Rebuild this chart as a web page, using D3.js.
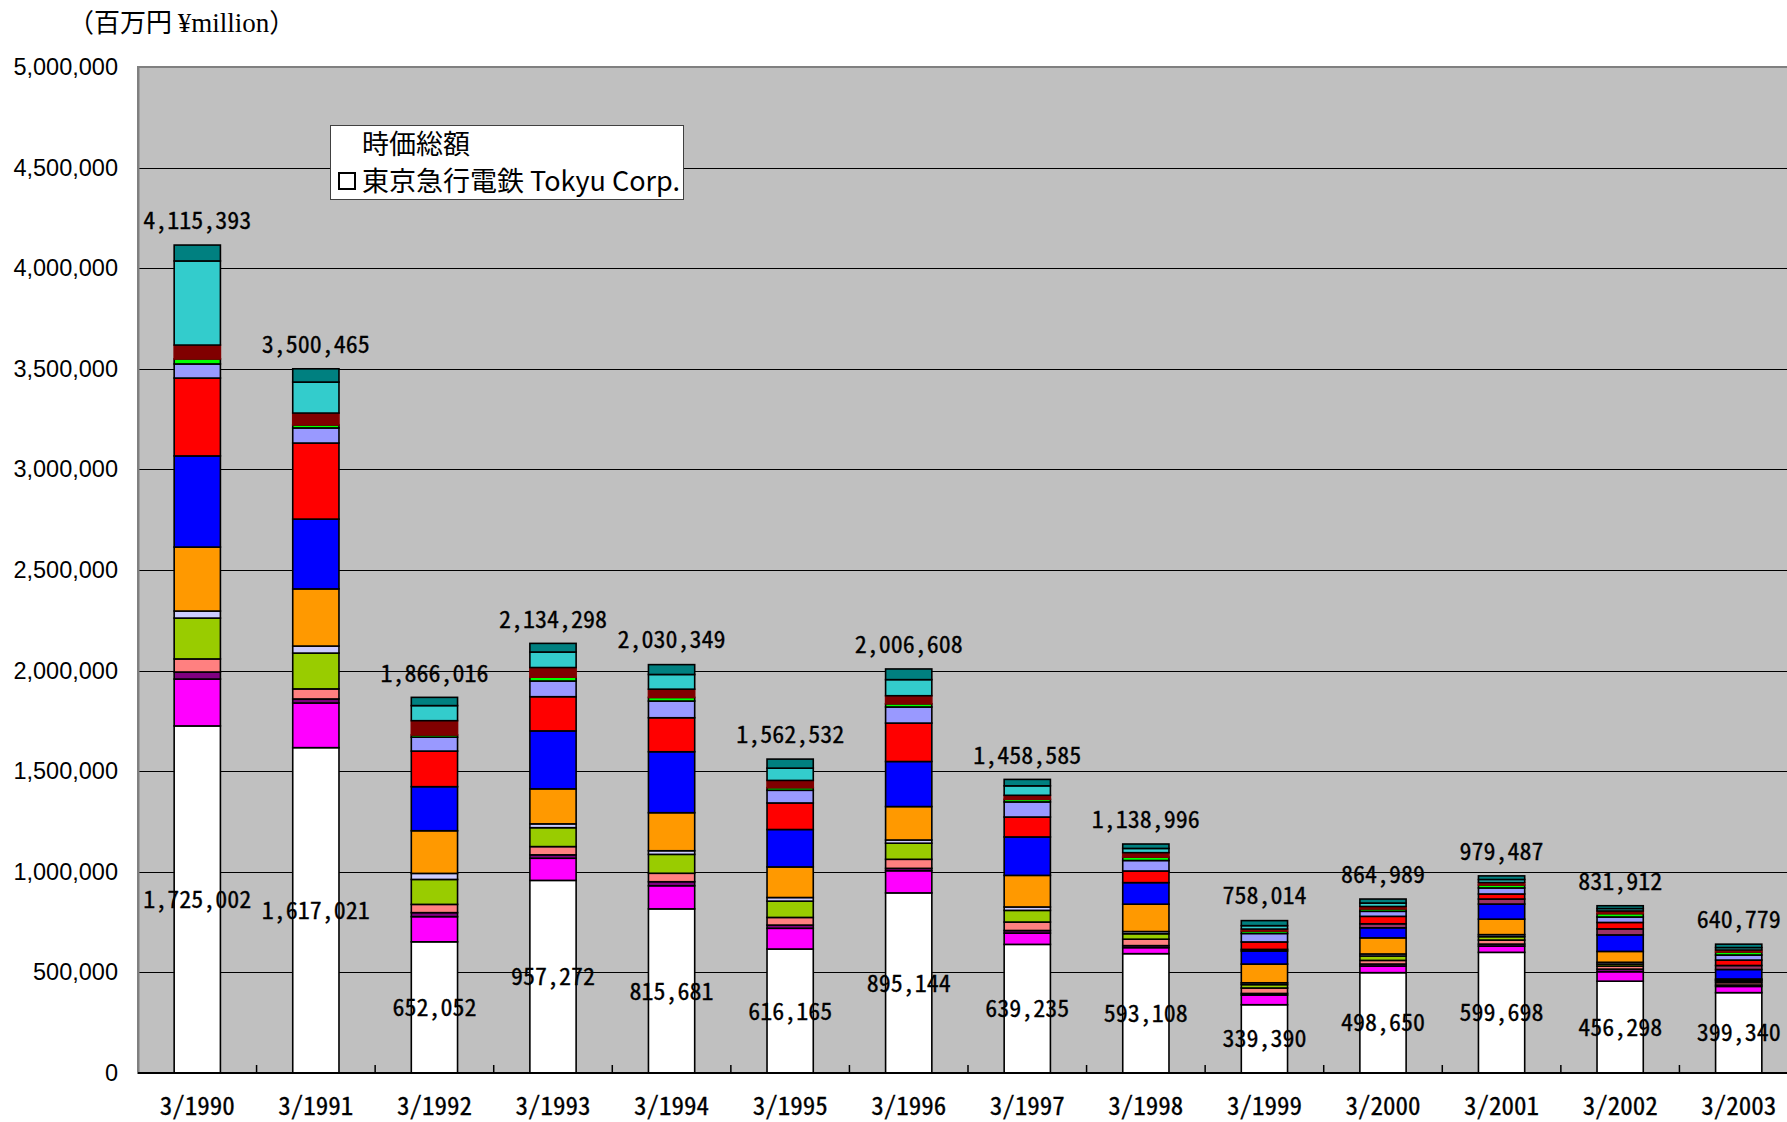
<!DOCTYPE html>
<html>
<head>
<meta charset="utf-8">
<script src="https://cdn.jsdelivr.net/npm/d3@7"></script>
<style>
  body { margin: 0; background: #fff; }
  svg { display: block; }
</style>
</head>
<body>
<div id="chart"></div>
<script>
// values in ¥million
const years = ["3/1990", "3/1991", "3/1992", "3/1993", "3/1994", "3/1995", "3/1996",
    "3/1997", "3/1998", "3/1999", "3/2000", "3/2001", "3/2002", "3/2003"]
const totals = [4115393, 3500465, 1866016, 2134298, 2030349, 1562532, 2006608,
    1458585, 1138996, 758014, 864989, 979487, 831912, 640779]

// bottom -> top
const tokyu = [1725002, 1617021, 652052, 957272, 815681, 616165, 895144, 639235, 593108, 339390, 498650, 599698, 456298, 399340]
const magenta = [233000, 222000, 125000, 110000, 115000, 103000, 110000, 56000, 30000, 48000, 33000, 31000, 47000, 31000]
const purple = [35000, 20000, 20000, 17000, 20000, 16000, 12000, 13000, 10000, 8000, 10000, 10000, 13000, 7000]
const salmon = [65000, 50000, 41000, 41000, 42000, 38000, 45000, 42000, 32000, 27000, 18000, 20000, 15000, 12000]
const yellowgreen = [203000, 178000, 124000, 94000, 94000, 81000, 80000, 58000, 27000, 17000, 22000, 17000, 10000, 8000]
const lavender = [35000, 35000, 30000, 19000, 18000, 18000, 16000, 17000, 11000, 9000, 10000, 10000, 9000, 5000]
const orange = [318000, 284000, 212000, 174000, 189000, 152000, 166000, 157000, 136000, 93000, 80000, 77000, 54000, 5000]
const blue = [453000, 347000, 219000, 288000, 303000, 186000, 224000, 191000, 107000, 65000, 50000, 75000, 82000, 47000]
const plum = [0, 0, 0, 0, 0, 0, 0, 0, 0, 8000, 20000, 25000, 30000, 20000]
const red = [387000, 378000, 177000, 170000, 169000, 132000, 191000, 99000, 58000, 37000, 37000, 25000, 32000, 27000]
const periwinkle = [70000, 75000, 69000, 78000, 83000, 63000, 80000, 75000, 52000, 42000, 25000, 30000, 27000, 25000]
const green = [25000, 15000, 11000, 19000, 18000, 13000, 16000, 13000, 17000, 12000, 12000, 15000, 17000, 15000]
const darkred = [69000, 59000, 71000, 48000, 41000, 36000, 40000, 20000, 22000, 10000, 12000, 12000, 13000, 10000]
const cyan = [418000, 154000, 75000, 77000, 73000, 61000, 80000, 47000, 21000, 17000, 17000, 15000, 12000, 12000]
const teal = [79000, 66000, 41000, 43000, 49000, 45000, 53000, 32000, 22000, 25000, 20000, 18000, 14000, 17000]

const yTicks = [0, 500000, 1000000, 1500000, 2000000, 2500000, 3000000, 3500000, 4000000, 4500000, 5000000]

const SERIES = [
    { key: "tokyu", values: tokyu, fill: "#ffffff", stroke: "#000" },
    { key: "magenta", values: magenta, fill: "#ff00ff", stroke: "#000" },
    { key: "purple", values: purple, fill: "#800080", stroke: "#000" },
    { key: "salmon", values: salmon, fill: "#ff8080", stroke: "#000" },
    { key: "yellowgreen", values: yellowgreen, fill: "#99cc00", stroke: "#000" },
    { key: "lavender", values: lavender, fill: "#ccccff", stroke: "#000" },
    { key: "orange", values: orange, fill: "#ff9900", stroke: "#000" },
    { key: "blue", values: blue, fill: "#0000ff", stroke: "#000" },
    { key: "plum", values: plum, fill: "#993366", stroke: "#000" },
    { key: "red", values: red, fill: "#ff0000", stroke: "#000" },
    { key: "periwinkle", values: periwinkle, fill: "#9999ff", stroke: "#000" },
    { key: "green", values: green, fill: "#00ff00", stroke: "#000" },
    { key: "darkred", values: darkred, fill: "#800000", stroke: "#800000" },
    { key: "cyan", values: cyan, fill: "#33cccc", stroke: "#000" },
    { key: "teal", values: teal, fill: "#008080", stroke: "#000" },
]

const rows = years.map((yr, i) => {
    const r = { year: yr }
    SERIES.forEach(s => { r[s.key] = s.values[i] })
    return r
})

const width = 1787, height = 1122
const plot = { left: 138, top: 67, right: 1798, bottom: 1073 }

const NUM_FONT = "'Noto Sans Mono CJK JP', 'Liberation Sans Narrow', sans-serif"
const JP_FONT = "'Noto Sans CJK JP', sans-serif"

const svg = d3.select("#chart").append("svg")
    .attr("width", width)
    .attr("height", height)

const x = d3.scaleBand()
    .domain(years)
    .range([plot.left, plot.right])
    .paddingInner(0.61)
    .paddingOuter(0.305)

const y = d3.scaleLinear()
    .domain([0, 5000000])
    .range([plot.bottom, plot.top])

// plot background
svg.append("rect")
    .attr("x", plot.left)
    .attr("y", plot.top)
    .attr("width", plot.right - plot.left)
    .attr("height", plot.bottom - plot.top)
    .attr("fill", "#c0c0c0")
    .attr("stroke", "#808080")
    .attr("stroke-width", 2)

// gridlines
svg.append("g")
    .selectAll("line")
    .data(yTicks.filter(d => d > 0 && d < 5000000))
    .enter().append("line")
    .attr("x1", plot.left)
    .attr("x2", plot.right)
    .attr("y1", d => Math.round(y(d)) + 0.5)
    .attr("y2", d => Math.round(y(d)) + 0.5)
    .attr("stroke", "#000")
    .attr("stroke-width", 1)

// y axis labels
const yAxis = svg.append("g")
    .attr("transform", "translate(" + plot.left + ",0)")
    .call(d3.axisLeft(y).tickValues(yTicks).tickFormat(d3.format(",")).tickSize(0).tickPadding(20))
yAxis.select(".domain").attr("stroke", "#808080").attr("stroke-width", 2)
yAxis.selectAll("text")
    .attr("font-family", "'Liberation Sans', Arial, sans-serif")
    .attr("font-size", 23.5)
    .attr("fill", "#000")

// stacked bars
const stacked = d3.stack().keys(SERIES.map(s => s.key))(rows)

svg.append("g")
    .selectAll("g")
    .data(stacked)
    .enter().append("g")
    .attr("fill", (d, i) => SERIES[i].fill)
    .attr("stroke", (d, i) => SERIES[i].stroke)
    .attr("stroke-width", 1.6)
    .selectAll("rect")
    .data(d => d.filter(p => p[1] > p[0]))
    .enter().append("rect")
    .attr("x", d => x(d.data.year))
    .attr("width", x.bandwidth())
    .attr("y", d => y(d[1]))
    .attr("height", d => y(d[0]) - y(d[1]))

// x axis line + inward ticks at category boundaries
svg.append("line")
    .attr("x1", plot.left)
    .attr("x2", width)
    .attr("y1", plot.bottom)
    .attr("y2", plot.bottom)
    .attr("stroke", "#000")
    .attr("stroke-width", 2.2)

svg.append("g")
    .selectAll("line")
    .data(years.slice(1))
    .enter().append("line")
    .attr("x1", d => x(d) - x.step() * x.paddingOuter())
    .attr("x2", d => x(d) - x.step() * x.paddingOuter())
    .attr("y1", plot.bottom)
    .attr("y2", plot.bottom - 8)
    .attr("stroke", "#000")
    .attr("stroke-width", 1.5)

// x labels
svg.append("g")
    .selectAll("text")
    .data(years)
    .enter().append("text")
    .attr("x", d => x(d) + x.bandwidth() / 2)
    .attr("y", 1115)
    .attr("text-anchor", "middle")
    .attr("font-family", NUM_FONT)
    .attr("font-size", 25)
    .attr("stroke", "#000")
    .attr("stroke-width", 0.3)
    .text(d => d)

// Tokyu values in the middle of the white segment
svg.append("g")
    .selectAll("text")
    .data(rows)
    .enter().append("text")
    .attr("x", d => x(d.year) + x.bandwidth() / 2)
    .attr("y", d => (y(0) + y(d.tokyu)) / 2)
    .attr("dy", "0.36em")
    .attr("text-anchor", "middle")
    .attr("font-family", NUM_FONT)
    .attr("font-size", 24)
    .attr("stroke", "#000")
    .attr("stroke-width", 0.3)
    .text(d => d3.format(",")(d.tokyu))

// totals above the bars
svg.append("g")
    .selectAll("text")
    .data(years)
    .enter().append("text")
    .attr("x", d => x(d) + x.bandwidth() / 2)
    .attr("y", (d, i) => y(totals[i]) - 16)
    .attr("text-anchor", "middle")
    .attr("font-family", NUM_FONT)
    .attr("font-size", 24)
    .attr("stroke", "#000")
    .attr("stroke-width", 0.3)
    .text((d, i) => d3.format(",")(totals[i]))

// unit title
const title = svg.append("text")
    .attr("x", 68)
    .attr("y", 32)
    .attr("font-size", 26)
    .attr("font-family", JP_FONT)
title.append("tspan").text("（百万円 ")
title.append("tspan").attr("font-family", "'Liberation Serif', serif").attr("font-size", 27).text("¥million")
title.append("tspan").text("）")

// legend
const legend = svg.append("g")
legend.append("rect")
    .attr("x", 330.5)
    .attr("y", 125.5)
    .attr("width", 353)
    .attr("height", 74)
    .attr("fill", "#fff")
    .attr("stroke", "#404040")
    .attr("stroke-width", 1)
legend.append("text")
    .attr("x", 362)
    .attr("y", 154)
    .attr("font-family", JP_FONT)
    .attr("font-size", 27)
    .text("時価総額")
legend.append("rect")
    .attr("x", 339)
    .attr("y", 173)
    .attr("width", 16)
    .attr("height", 16)
    .attr("fill", SERIES[0].fill)
    .attr("stroke", "#000")
    .attr("stroke-width", 2)
legend.append("text")
    .attr("x", 362)
    .attr("y", 191)
    .attr("font-family", JP_FONT)
    .attr("font-size", 27)
    .text("東京急行電鉄 Tokyu Corp.")
</script>
</body>
</html>
